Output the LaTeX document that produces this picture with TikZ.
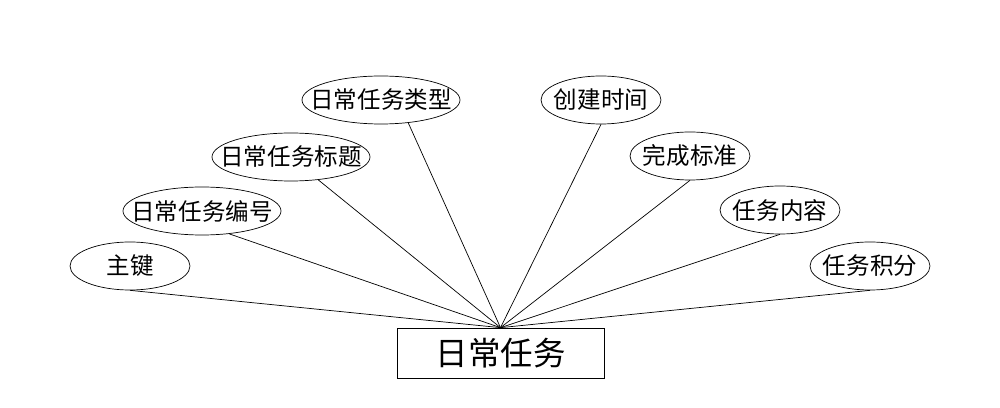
\documentclass[tikz,border=0pt]{standalone}
\usepackage{fontspec}
\newfontfamily\cjk{Noto Sans CJK SC}
\usetikzlibrary{positioning,shapes,calc}

\begin{document}
\begin{tikzpicture}[
  x=0.02cm, y=-0.02cm,
  font=\cjk,
  attr/.style={draw,ellipse,thin,inner xsep=-1.5cm,inner ysep=0pt,minimum height=0.96cm,
    font=\cjk\fontsize{13.4}{15}\selectfont},
  wideattr/.style={attr,minimum width=3.16cm},
  shortattr/.style={attr,minimum width=2.4cm},
  entity/.style={draw,thin,inner sep=0pt,minimum width=4.14cm,minimum height=1cm,
    font=\cjk\fontsize{18.5}{21}\selectfont},
  link/.style={thin},
  every node/.style={align=center}]

  \useasboundingbox (0,0) rectangle (1000,408);

  % Entitaet
  \node[entity] (task) at (500.5,353) {日常任务};

  % Attribute links
  \node[shortattr] (key)   at (130,266) {主键};
  \node[wideattr]  (num)   at (202,211) {日常任务编号};
  \node[wideattr]  (title) at (291,157) {日常任务标题};
  \node[wideattr]  (type)  at (381,100) {日常任务类型};

  % Attribute rechts
  \node[shortattr] (time)    at (601,100) {创建时间};
  \node[shortattr] (norm)    at (690,156) {完成标准};
  \node[shortattr] (content) at (780,210) {任务内容};
  \node[shortattr] (score)   at (870,266) {任务积分};

  % Verbindungen
  \draw[link] (key.south) -- (task.north);
  \draw[link] (num.-40) -- (task.north);
  \draw[link] (title.-40) -- (task.north);
  \draw[link] (type.-40) -- (task.north);
  \draw[link] (time.south) -- (task.north);
  \draw[link] (norm.south) -- (task.north);
  \draw[link] (content.south) -- (task.north);
  \draw[link] (score.south) -- (task.north);

\end{tikzpicture}
\end{document}
